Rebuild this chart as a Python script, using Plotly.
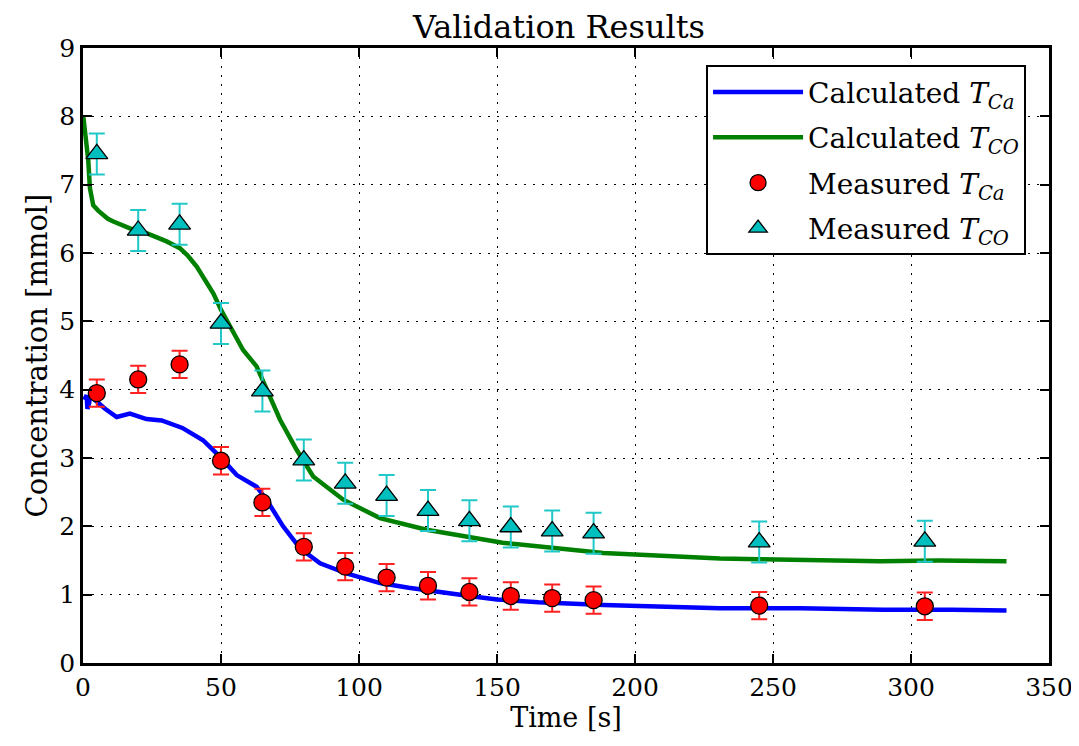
import plotly.graph_objects as go

# Calculated curves
calc_t_ca = [0.5, 1.3, 1.6, 2.2, 3.0, 4.3, 8, 12.2, 17, 23, 28.5, 36, 43.5, 49.6, 55.7, 60, 62.9, 66.5, 72.5, 78.6, 85.9, 95.5, 107.6, 118, 128, 140, 150, 165, 188.6, 210, 230.8, 260, 290, 315, 334.6]
calc_ca = [3.85, 3.92, 3.72, 3.80, 4.0, 3.85, 3.72, 3.60, 3.65, 3.57, 3.55, 3.44, 3.26, 3.02, 2.75, 2.65, 2.58, 2.39, 2.00, 1.68, 1.46, 1.31, 1.17, 1.10, 1.04, 0.98, 0.93, 0.89, 0.85, 0.82, 0.80, 0.80, 0.78, 0.78, 0.77]

calc_t_co = [0.1, 1.0, 1.9, 2.5, 3.2, 3.7, 5.5, 7.4, 9, 11, 14, 17, 23, 30.3, 35.1, 38, 41.2, 44, 47.2, 50, 53.3, 58, 62.9, 66.5, 71.4, 77.4, 83.4, 94.3, 107.6, 124.5, 152, 188.5, 230.8, 245, 260, 288.8, 310, 334.6]
calc_co = [8.0, 7.7, 7.36, 6.95, 6.78, 6.70, 6.62, 6.56, 6.50, 6.46, 6.41, 6.36, 6.29, 6.17, 6.07, 5.96, 5.80, 5.62, 5.41, 5.17, 4.92, 4.58, 4.34, 4.00, 3.56, 3.12, 2.73, 2.39, 2.12, 1.95, 1.76, 1.61, 1.53, 1.52, 1.51, 1.49, 1.50, 1.49]

# Measured points
meas_t = [5, 20, 35, 50, 65, 80, 95, 110, 125, 140, 155, 170, 185, 245, 305]
meas_ca = [3.95, 4.15, 4.37, 2.96, 2.35, 1.70, 1.41, 1.25, 1.13, 1.04, 0.98, 0.95, 0.92, 0.84, 0.83]
meas_co = [7.45, 6.33, 6.42, 4.97, 3.98, 2.97, 2.63, 2.45, 2.23, 2.08, 1.99, 1.93, 1.90, 1.77, 1.78]
err_ca = 0.2
err_co = 0.3

x_ticks = [0, 50, 100, 150, 200, 250, 300, 350]
y_ticks = [0, 1, 2, 3, 4, 5, 6, 7, 8, 9]

FONT = "DejaVu Serif"

fig = go.Figure()
fig.add_trace(go.Scatter(x=calc_t_ca, y=calc_ca, mode="lines", legendgroup="a",
                         line=dict(color="#0000FF", width=4.5),
                         name="Calculated <i>T</i><sub><i>Ca</i></sub>"))
fig.add_trace(go.Scatter(x=calc_t_co, y=calc_co, mode="lines", legendgroup="b",
                         line=dict(color="#008000", width=4.5),
                         name="Calculated <i>T</i><sub><i>CO</i></sub>"))
fig.add_trace(go.Scatter(x=meas_t, y=meas_ca, mode="markers", legendgroup="c",
                         marker=dict(symbol="circle", size=17, color="#FF0000",
                                     line=dict(color="black", width=1.3)),
                         error_y=dict(type="constant", value=err_ca, color="#FF2020",
                                      thickness=2, width=8),
                         name="Measured <i>T</i><sub><i>Ca</i></sub>"))
fig.add_trace(go.Scatter(x=meas_t, y=meas_co, mode="markers", legendgroup="d",
                         marker=dict(symbol="triangle-up", size=19, color="#00BFBF",
                                     line=dict(color="black", width=1.3)),
                         error_y=dict(type="constant", value=err_co, color="#20C8C8",
                                      thickness=2, width=8),
                         name="Measured <i>T</i><sub><i>CO</i></sub>"))

axis_common = dict(showline=True, linecolor="black", linewidth=2.5, mirror="allticks",
                   ticks="inside", ticklen=9, tickwidth=1.5, tickcolor="black",
                   showgrid=True, gridcolor="black", gridwidth=1.3, griddash="2px,7px",
                   zeroline=False, automargin=False,
                   tickfont=dict(family=FONT, size=25, color="black"))

fig.update_xaxes(range=[0, 350], tickvals=x_ticks,
                 title=dict(text="Time [s]", font=dict(family=FONT, size=27, color="black"),
                            standoff=4),
                 **axis_common)
fig.update_yaxes(range=[0, 9], tickvals=y_ticks,
                 title=dict(text="Concentration [mmol]", font=dict(family=FONT, size=29, color="black"),
                            standoff=4),
                 **axis_common)

fig.update_layout(
    width=1071, height=738,
    margin=dict(l=75, r=30, t=40, b=83),
    paper_bgcolor="white", plot_bgcolor="white",
    title=dict(text="Validation Results", x=0.5145, xanchor="center", y=0.99, yanchor="top",
               font=dict(family=FONT, size=32, color="black")),
    font=dict(family=FONT, color="black"),
    legend=dict(x=0.645, y=0.972, xanchor="left", yanchor="top",
                bgcolor="white", bordercolor="black", borderwidth=2,
                font=dict(family=FONT, size=28, color="black"),
                itemwidth=90, tracegroupgap=6),
)

fig.write_html("out.html")
